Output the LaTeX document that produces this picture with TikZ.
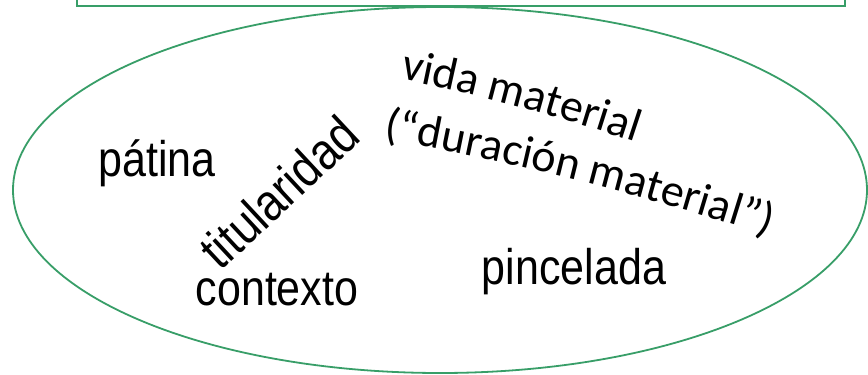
\documentclass[tikz,border=0pt]{standalone}
\usepackage{fontspec}
\usepackage{tikz}
\usetikzlibrary{decorations.text}
\newfontfamily\narrowsans{Liberation Sans}[FakeStretch=0.86]
\newfontfamily\curvesans{Carlito}
\definecolor{linegreen}{RGB}{56,158,104}
\tikzstyle{word} = [font=\narrowsans\fontsize{50}{50}\selectfont, inner sep=0pt, anchor=base]
\tikzstyle{frame} = [draw=linegreen, line width=1.8pt]
\newcommand{\curvefont}{\curvesans\fontsize{46}{46}\selectfont}

\begin{document}
\begin{tikzpicture}[x=1pt,y=-1pt]
	\useasboundingbox (0,0) rectangle (868,375);
	\clip (0,0) rectangle (868,375);
	% Box above, cut off by the top edge of the page
	\draw[frame, line width=2.2pt] (77,-20) rectangle (845,6);
	% The big ellipse
	\draw[frame] (440,190) ellipse (427pt and 183pt);
	% Words inside:
	\node[word] (patina) at (157,176) {pátina};
	\node[word] (contexto) at (277,305) {contexto};
	\node[word] (pincelada) at (574,284) {pincelada};
	\node[word, anchor=center, rotate=43, font=\narrowsans\fontsize{52}{52}\selectfont]
		(titularidad) at (279,192) {titularidad};
	% The bent text follows two slightly curved paths
	\path[decorate, decoration={text along path, text align=left,
		text={|\curvefont|vida material}}]
		(400,79) .. controls (482,95) and (563,117) .. (665,152);
	\path[decorate, decoration={text along path, text align=left,
		text={|\curvefont|(“duración material”)}}]
		(383,139) .. controls (513,162) and (648,195) .. (805,248);
\end{tikzpicture}
\end{document}
